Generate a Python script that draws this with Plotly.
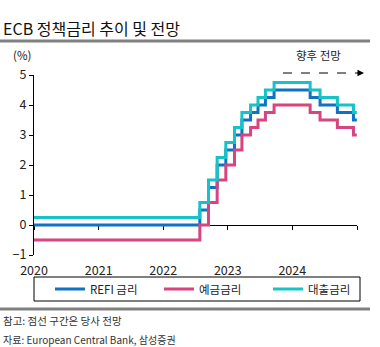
import plotly.graph_objects as go

# ECB policy rates: step dates and levels (%), with the forecast path through 2024
step_dates = ['2020-01-01', '2022-07-27', '2022-09-14', '2022-11-02', '2022-12-21',
              '2023-02-08', '2023-03-22', '2023-05-10', '2023-06-21', '2023-08-02',
              '2023-09-20', '2024-04-11', '2024-06-06', '2024-09-12', '2024-12-12',
              '2024-12-31']
refi_rate = [0.0, 0.5, 1.25, 2.0, 2.5, 3.0, 3.5, 3.75, 4.0, 4.25, 4.5,
             4.25, 4.0, 3.75, 3.5, 3.5]
deposit_rate = [-0.5, 0.0, 0.75, 1.5, 2.0, 2.5, 3.0, 3.25, 3.5, 3.75, 4.0,
                3.75, 3.5, 3.25, 3.0, 3.0]
lending_rate = [0.25, 0.75, 1.5, 2.25, 2.75, 3.25, 3.75, 4.0, 4.25, 4.5, 4.75,
                4.5, 4.25, 4.0, 3.75, 3.75]

series_names = ['REFI 금리', '예금금리', '대출금리']
series_colors = ['#1172C4', '#D8447F', '#16C3C6']

year_ticks = ['2020-01-01', '2021-01-01', '2022-01-01', '2023-01-01', '2024-01-01']
year_labels = ['2020', '2021', '2022', '2023', '2024']
axis_year_ticks = year_ticks + ['2025-01-01']
y_ticks = [-1, 0, 1, 2, 3, 4, 5]

W, H = 380, 347
ML, MR, MT, MB = 34, 23, 75, 92
PW, PH = W - ML - MR, H - MT - MB
FONT = 'Noto Sans CJK KR'


def px_x(px):
    return (px - ML) / PW


def px_y(py):
    return (H - MB - py) / PH


fig = go.Figure()
for name, vals, color in zip(series_names, [refi_rate, deposit_rate, lending_rate], series_colors):
    fig.add_trace(go.Scatter(
        x=step_dates, y=vals, name=name, mode='lines',
        line=dict(color=color, width=3, shape='hv'),
        hoverinfo='skip'))

# zero-line axis carrying the yearly tick marks
fig.add_trace(go.Scatter(x=[], y=[], xaxis='x2', showlegend=False, hoverinfo='skip'))

fig.update_layout(
    width=W, height=H,
    margin=dict(l=ML, r=MR, t=MT, b=MB),
    paper_bgcolor='white', plot_bgcolor='white',
    font=dict(family=FONT, size=12, color='#222222'),
    showlegend=True,
    legend=dict(orientation='h', x=px_x(50), xanchor='left',
                y=px_y(289), yanchor='middle',
                entrywidth=64, entrywidthmode='pixels',
                font=dict(size=11.5, color='#222222'),
                bgcolor='rgba(0,0,0,0)', borderwidth=0,
                itemclick=False),
    xaxis=dict(type='date', range=['2020-01-01', '2025-01-01'],
               tickvals=year_ticks, ticktext=year_labels,
               showline=False, showgrid=False, zeroline=False,
               ticks='outside', ticklen=4, tickcolor='rgba(0,0,0,0)',
               tickfont=dict(size=12.5, color='#222222')),
    xaxis2=dict(type='date', range=['2020-01-01', '2025-01-01'],
                overlaying='x', anchor='free', position=1 / 6, side='bottom',
                tickvals=axis_year_ticks, showticklabels=False,
                showline=True, linecolor='black', linewidth=1,
                ticks='outside', ticklen=4, tickcolor='black', tickwidth=1,
                showgrid=False, zeroline=False, layer='below traces'),
    yaxis=dict(range=[-1, 5], tickvals=y_ticks,
               showline=True, linecolor='black', linewidth=1,
               ticks='outside', ticklen=4, tickcolor='black',
               showgrid=False, zeroline=False,
               tickfont=dict(size=12.5, color='#222222')),
)

shapes = [
    # separators under the title and above the notes
    dict(type='line', xref='paper', yref='paper', x0=px_x(0), x1=px_x(370),
         y0=px_y(41), y1=px_y(41), line=dict(color='#808080', width=3)),
    dict(type='line', xref='paper', yref='paper', x0=px_x(0), x1=px_x(370),
         y0=px_y(309), y1=px_y(309), line=dict(color='#808080', width=3)),
    # legend frame
    dict(type='rect', xref='paper', yref='paper', x0=px_x(34), x1=px_x(360),
         y0=px_y(301), y1=px_y(277), line=dict(color='black', width=1)),
    # forecast span marker
    dict(type='line', xref='paper', yref='paper', x0=px_x(283), x1=px_x(358),
         y0=px_y(73), y1=px_y(73), line=dict(color='black', width=1, dash='dash')),
]
fig.update_layout(shapes=shapes)

annotations = [
    dict(text='ECB 정책금리 추이 및 전망', xref='paper', yref='paper',
         x=px_x(1), y=px_y(28), xanchor='left', yanchor='middle',
         showarrow=False, font=dict(size=16, color='#111111')),
    dict(text='(%)', xref='paper', yref='paper', x=px_x(22), y=px_y(55),
         xanchor='center', yanchor='middle', showarrow=False,
         font=dict(size=11.5, color='#222222')),
    dict(text='향후 전망', xref='paper', yref='paper', x=px_x(318), y=px_y(55),
         xanchor='center', yanchor='middle', showarrow=False,
         font=dict(size=11.5, color='#222222')),
    dict(text='', xref='paper', yref='paper', x=px_x(364), y=px_y(73),
         ax=-8, ay=0, showarrow=True, arrowhead=2, arrowsize=1.3,
         arrowwidth=1, arrowcolor='black'),
    dict(text='참고: 점선 구간은 당사 전망', xref='paper', yref='paper',
         x=px_x(1), y=px_y(320), xanchor='left', yanchor='middle',
         showarrow=False, font=dict(size=10.5, color='#333333')),
    dict(text='자료: European Central Bank, 삼성증권', xref='paper', yref='paper',
         x=px_x(1), y=px_y(339), xanchor='left', yanchor='middle',
         showarrow=False, font=dict(size=10, color='#333333')),
]
fig.update_layout(annotations=annotations)

fig.write_html('out.html')
